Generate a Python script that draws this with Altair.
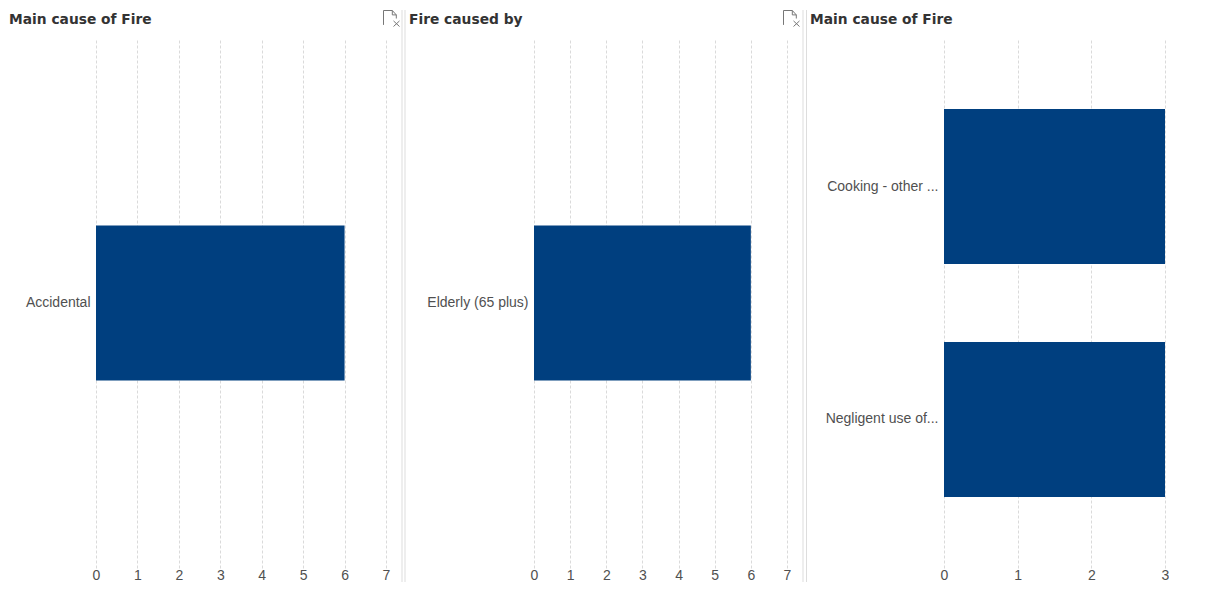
import altair as alt

titles = ["Main cause of Fire", "Fire caused by", "Main cause of Fire"]
cats_1 = ["Accidental"]
vals_1 = [6]
cats_2 = ["Elderly (65 plus)"]
vals_2 = [6]
cats_3 = ["Cooking - other ...", "Negligent use of..."]
vals_3 = [3, 3]
icon = ("M-1,0.8 L-1,-1 L0.1,-1 L0.6,-0.45 L0.6,0 M0.1,-1 L0.1,-0.45 L0.6,-0.45 "
        "M0.25,0.3 L1,1 M1,0.3 L0.25,1")

NAVY = "#003F7F"
GRID = "#DADADA"
TXT = "#505050"
DIV = "#DDDDDD"


def panel(title, cats, vals, xmax, width, rng, pad_inner, pad_outer, title_dx, dividers, icon_x):
    data = alt.Data(values=[{"cat": c, "val": v} for c, v in zip(cats, vals)])
    x = alt.X("val:Q", scale=alt.Scale(domain=[0, xmax], range=[0, rng], nice=False),
              axis=alt.Axis(title=None, values=list(range(xmax + 1)), format="d", grid=True,
                            gridColor=GRID, gridDash=[3, 2], gridWidth=1, domain=False,
                            ticks=False, labelPadding=0,
                            labelFont="Liberation Sans", labelFontSize=14, labelColor=TXT,
                            labelFlush=False))
    y = alt.Y("cat:N", sort=cats, scale=alt.Scale(paddingInner=pad_inner, paddingOuter=pad_outer),
              axis=alt.Axis(title=None, domain=False, ticks=False, grid=False, labelPadding=6,
                            labelFont="Liberation Sans", labelFontSize=14, labelColor=TXT,
                            labelLimit=200))
    bars = alt.Chart(data).mark_bar(color=NAVY).encode(x=x, y=y)
    one = alt.Data(values=[{"label": title}])
    layers = [bars]
    for d in dividers:
        layers.append(alt.Chart(one).mark_rule(color=DIV, strokeWidth=1).encode(
            x=alt.value(d), y=alt.value(-28), y2=alt.value(544)))
    if icon_x is not None:
        layers.append(alt.Chart(one).mark_point(shape=icon, size=256, filled=False, color="#777777",
                                                strokeWidth=1, opacity=1).encode(
            x=alt.value(icon_x), y=alt.value(-19.5)))
    layers.append(alt.Chart(one).mark_text(
        align="left", baseline="middle", font="DejaVu Sans", fontSize=13.8, fontWeight="bold",
        color="#333333").encode(x=alt.value(title_dx), y=alt.value(-18), text="label:N"))
    return alt.layer(*layers).properties(width=width, height=530)


p1 = panel(titles[0], cats_1, vals_1, 7, 290, 290, 0.335, 0.805, -87, [306, 309], 295.5)
p2 = panel(titles[1], cats_2, vals_2, 7, 262, 253, 0.335, 0.805, -125, [269], 257.5)
p3 = panel(titles[2], cats_3, vals_3, 3, 221, 221, 0.335, 0.305, -134, [-137.5], None)

chart = alt.hconcat(p1, p2, p3, spacing=148, bounds="flush").properties(
    padding={"left": 1, "top": 0, "right": 0, "bottom": 0}).configure_view(stroke=None)
chart.save("out.html", embed_options={"renderer": "svg", "actions": False})
